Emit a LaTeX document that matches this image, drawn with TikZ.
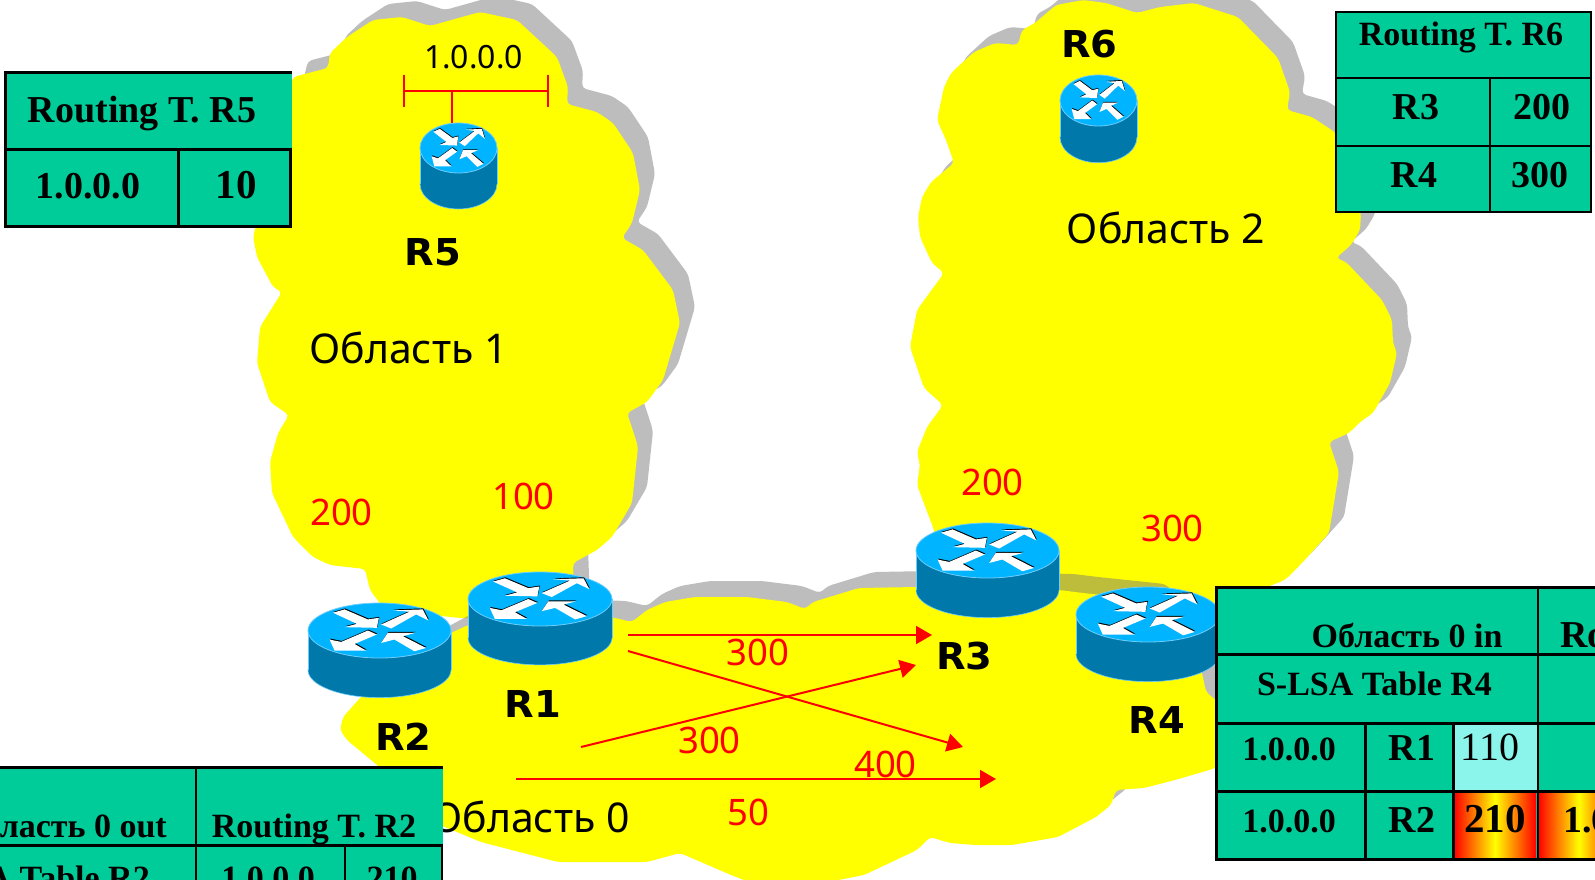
\documentclass[tikz,border=0pt]{standalone}
\usepackage{fontspec}
\setmainfont{Noto Sans}
\newfontfamily\tabfont{Liberation Serif}
\newfontfamily\rfont{DejaVu Sans Bold}[FakeStretch=1.04]
\usetikzlibrary{arrows.meta}
\definecolor{yel}{RGB}{255,255,0}
\definecolor{teal1}{RGB}{0,204,153}
\definecolor{aqua1}{RGB}{140,245,235}
\definecolor{rtop}{RGB}{0,180,255}
\definecolor{rside}{RGB}{0,120,170}
\definecolor{redge}{RGB}{110,205,250}
\definecolor{shgray}{RGB}{122,122,122}
\definecolor{red1}{RGB}{255,0,0}
\def\cloudOne{(430,26)--(480,12)--(517,20)--(557,57)--(568,87)--(567,104)--(597,112)--(613,123)--(633,153)--(640,190)--(632,223)--(622,238)--(643,250)--(673,290)--(680,323)--(663,380)--(647,402)--(627,413)--(635,437)--(638,447)--(632,503)--(612,537)--(597,550)--(573,563)--(575,620)--(460,618)--(385,610)--(370,590)--(365,569)--(330,565)--(313,557)--(293,537)--(272,493)--(270,462)--(278,433)--(289,415)--(270,402)--(257,363)--(260,327)--(282,292)--(273,287)--(257,257)--(253,237)--(293,77)--(328,68)--(330,53)--(347,37)--(373,20)--(402,17)--cycle}
\def\cloudTwo{(1137,13)--(1160,7)--(1194,3)--(1238,17)--(1278,58)--(1290,92)--(1287,110)--(1312,117)--(1336,133)--(1361,213)--(1360,230)--(1351,245)--(1336,258)--(1346,262)--(1382,300)--(1392,320)--(1393,343)--(1397,353)--(1390,383)--(1373,413)--(1360,422)--(1349,433)--(1329,442)--(1334,457)--(1339,472)--(1329,533)--(1302,563)--(1285,580)--(1272,585)--(1200,620)--(950,620)--(934,530)--(917,485)--(920,465)--(917,452)--(927,427)--(943,405)--(924,388)--(910,347)--(917,310)--(944,273)--(932,263)--(920,237)--(918,217)--(922,197)--(931,182)--(954,163)--(946,140)--(937,120)--(944,87)--(951,73)--(974,52)--(995,43)--(1018,45)--(1022,30)--(1035,23)--(1056,5)--(1083,0)--(1106,3)--cycle}
\def\cloudZero{(611,617)--(632,622)--(647,610)--(665,602)--(695,597)--(747,597)--(787,602)--(805,609)--(813,602)--(859,588)--(917,587)--(1059,590)--(1083,593)--(1150,600)--(1195,640)--(1206,692)--(1240,720)--(1216,768)--(1175,780)--(1144,788)--(1116,790)--(1111,805)--(1096,817)--(1058,837)--(1012,845)--(976,845)--(950,843)--(930,837)--(917,850)--(864,875)--(813,885)--(757,885)--(731,875)--(680,853)--(647,862)--(558,862)--(481,842)--(440,825)--(377,765)--(347,740)--(340,730)--(343,717)--(360,698)--(400,660)--(451,633)--(468,625)--(560,615)--cycle}
\def\arrowsR{%
 \fill[rarrow] (-.651,-.646)--(-.488,-.768)--(-.163,-.402)--(-.009,-.463)--(-.037,-.098)--(-.488,-.122)--(-.316,-.244)--cycle;
 \fill[rarrow] (.023,-.22)--(.419,-.683)--(.186,-.732)--(.605,-.768)--(.684,-.366)--(.512,-.585)--(.163,-.073)--cycle;
 \fill[rarrow] (-.698,.329)--(-.535,.415)--(-.163,0)--(-.037,.146)--(-.349,.488)--(-.186,.732)--(-.628,.732)--cycle;
 \fill[rarrow] (.651,.634)--(.488,.756)--(.209,.329)--(.023,.451)--(.116,.085)--(.502,.085)--(.326,.207)--cycle;}
\tikzset{
 rarrow/.style={white},
 cloudfill/.style={fill=yel,rounded corners=4pt},
 cloudshadow/.style={fill=shgray,fill opacity=.49,rounded corners=4pt,shift={(15,-16)}},
 router/.pic={
  \coordinate (-c) at (0,0);
  \fill[rside,draw=redge,line width=.6pt] (0,1.44) ellipse[x radius=1,y radius=1];
  \fill[rside] (-1,0) rectangle (1,1.44);
  \draw[redge,line width=.6pt] (-1,0)--(-1,1.44) (1,0)--(1,1.44);
  \fill[rtop,draw=redge,line width=.8pt] (0,0) ellipse[x radius=1,y radius=1];
  \begin{scope}[shift={(.008,-.035)},rarrow/.style={black}]\arrowsR\end{scope}
  \arrowsR
 },
 lab/.style={anchor=base,inner sep=0pt,font=\fontsize{41}{44}\selectfont},
 num/.style={anchor=base,inner sep=0pt,text=red1,font=\fontsize{36.5}{40}\selectfont},
 rname/.style={anchor=base,inner sep=0pt,font=\rfont\fontsize{37}{40}\selectfont},
 tb/.style={anchor=base,inner sep=0pt,font=\tabfont\fontsize{38}{40}\selectfont\bfseries},
 tbs/.style={tb,font=\tabfont\fontsize{34}{36}\selectfont\bfseries},
 tcell/.style={fill=teal1},
 tline/.style={black,line width=3pt},
 tthin/.style={black,line width=2.2pt},
 link/.style={red1,line width=2pt,-{Triangle[length=16pt,width=18pt]}},
 bus/.style={red1,line width=1.6pt},
 hot/.style={left color=red1,right color=red1,middle color=yel},
}
\begin{document}
\begin{tikzpicture}[x=1pt,y=-1pt]
\useasboundingbox (0,0) rectangle (1595,879);
\clip (0,0) rectangle (1595,879);
\fill[white] (0,0) rectangle (1595,879);
% clouds
\path[cloudshadow] \cloudTwo;
\path[cloudfill] \cloudTwo;
\path[cloudshadow] \cloudOne;
\path[cloudfill] \cloudOne;
\path[cloudshadow] \cloudZero;
\path[cloudfill] \cloudZero;
% routers
\pic[xscale=38.5,yscale=25] (r5) at (458.5,148) {router};
\pic[xscale=38.5,yscale=25.5] (r6) at (1098.5,100.5) {router};
\pic[xscale=71.5,yscale=27.5] (r2) at (379.5,630.5) {router};
\pic[xscale=72,yscale=27] (r1) at (540,599) {router};
\pic[xscale=71.5,yscale=27.5] (r3) at (987.5,550.5) {router};
\pic[xscale=72,yscale=27.5] (r4) at (1148,614.5) {router};
% network bus at R5
\coordinate (busl) at (404,91);
\coordinate (busr) at (548,91);
\coordinate (busm) at (452,91);
\coordinate (buss) at (452,123);
\coordinate (blt) at (404,75);
\coordinate (blb) at (404,107);
\coordinate (brt) at (548,75);
\coordinate (brb) at (548,107);
\draw[bus] (busl)--(busr);
\draw[bus] (blt)--(blb);
\draw[bus] (brt)--(brb);
\draw[bus] (busm)--(buss);
% links
\coordinate (a1) at (628,635); \coordinate (a2) at (932,635);
\coordinate (b1) at (628,651); \coordinate (b2) at (963,747);
\coordinate (c1) at (581,747); \coordinate (c2) at (916,665);
\coordinate (d1) at (516,779); \coordinate (d2) at (996,779);
\draw[link] (a1)--(a2);
\draw[link] (b1)--(b2);
\draw[link] (c1)--(c2);
\draw[link] (d1)--(d2);
% labels
\node[lab,font=\fontsize{32}{34}\selectfont] (net) at (473.5,68) {1.0.0.0};
\node[lab] (a1t) at (408.5,363) {Область 1};
\node[lab] (a2t) at (1166,243) {Область 2};
\node[lab] (a0t) at (530.5,832) {Область 0};
\node[rname] (n5) at (433,265) {R5};
\node[rname] (n6) at (1089.5,57) {R6};
\node[rname] (n1) at (533,717) {R1};
\node[rname] (n2) at (403.5,750) {R2};
\node[rname] (n3) at (964.5,669) {R3};
\node[rname] (n4) at (1157,733) {R4};
\node[num] (m1) at (341.5,525) {200};
\node[num] (m2) at (523.5,509) {100};
\node[num] (m3) at (992.5,495) {200};
\node[num] (m4) at (1172.5,541) {300};
\node[num] (m5) at (758,665) {300};
\node[num] (m6) at (709.5,753) {300};
\node[num] (m7) at (885.5,777) {400};
\node[num] (m8) at (748,825) {50};
% table R5
\fill[tcell] (4,72) rectangle (292,228);
\draw[tline] (5.5,72)--(5.5,228) (4,72.5)--(292,72.5) (4,149)--(292,149) (4,226.5)--(292,226.5) (178,149)--(178,228) (290.5,149)--(290.5,228);
\node[tb] (t5a) at (142,122) {Routing T. R5};
\node[tb] (t5b) at (88,198) {1.0.0.0};
\node[tb,font=\tabfont\fontsize{41}{44}\selectfont\bfseries] (t5c) at (236,198) {10};
% table R6
\fill[tcell] (1335,11) rectangle (1592,213);
\draw[tthin] (1336,11)--(1336,213) (1335,12)--(1592,12) (1335,78)--(1592,78) (1335,146)--(1592,146) (1335,212)--(1592,212) (1591,11)--(1591,213) (1490,78)--(1490,213);
\node[tbs] (t6a) at (1461,45) {Routing T. R6};
\node[tb] (t6b) at (1416,119) {R3};
\node[tb] (t6c) at (1542,119) {200};
\node[tb] (t6d) at (1414,187) {R4};
\node[tb] (t6e) at (1540,187) {300};
% table R2
\fill[tcell] (-5,767) rectangle (443,884);
\draw[tline] (-5,767.5)--(443,767.5) (-5,845)--(443,845);
\draw[tthin] (196,767)--(196,884) (345,845)--(345,884) (442,845)--(442,884);
\node[tbs,anchor=base east] (t2a) at (167,837) {Область 0 out};
\node[tbs] (t2b) at (314,837) {Routing T. R2};
\node[tbs,anchor=base east] (t2c) at (150,889) {S-LSA Table R2};
\node[tbs] (t2d) at (268,889) {1.0.0.0};
\node[tbs] (t2e) at (392,889) {210};
% table R4
\fill[tcell] (1215,586) rectangle (1600,860);
\fill[aqua1] (1453,723) rectangle (1538,791);
\shade[hot] (1454,791) rectangle (1536,860);
\shade[hot] (1538,791) rectangle (1620,860);
\draw[tline] (1215,587.5)--(1600,587.5) (1216.5,586)--(1216.5,860) (1215,654.5)--(1600,654.5) (1215,723)--(1600,723) (1215,791)--(1600,791) (1215,859)--(1600,859) (1365,723)--(1365,860) (1453,723)--(1453,860);
\draw[tthin] (1538,586)--(1538,860);
\node[tbs] (t4a) at (1407,647) {Область 0 in};
\node[tbs] (t4b) at (1374.5,695) {S-LSA Table R4};
\node[tbs] (t4c) at (1289,760) {1.0.0.0};
\node[tb] (t4d) at (1412,760) {R1};
\node[tb,font=\tabfont\fontsize{40}{44}\selectfont] (t4e) at (1490,760) {110};
\node[tbs] (t4f) at (1289,832) {1.0.0.0};
\node[tb] (t4g) at (1412,832) {R2};
\node[tb,font=\tabfont\fontsize{41}{44}\selectfont\bfseries] (t4h) at (1495,832) {210};
\node[tb,anchor=base west] (t4i) at (1560,647) {Routing T. R4};
\node[tb,anchor=base west] (t4j) at (1594,695) {1.0.0.0};
\node[tb,anchor=base west] (t4k) at (1594,760) {1.0.0.0};
\node[tb,anchor=base west] (t4l) at (1563,832) {1.0.0.0};
\end{tikzpicture}
\end{document}
